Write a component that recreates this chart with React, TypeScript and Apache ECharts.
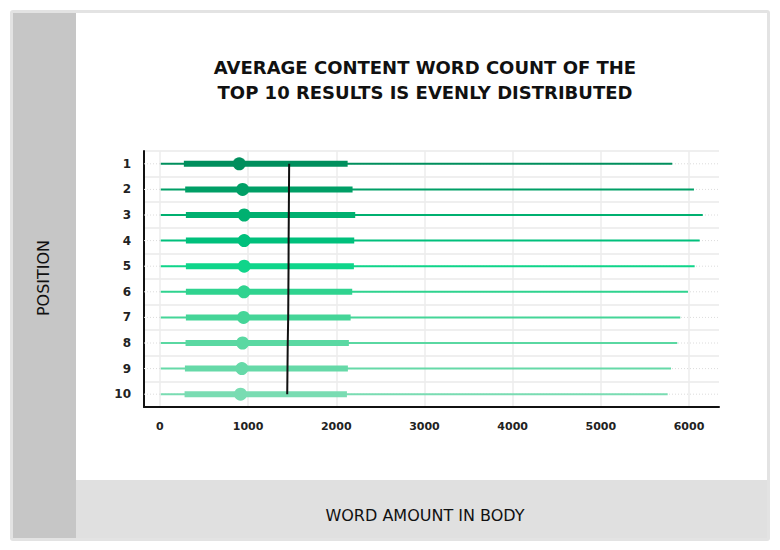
import React, { useEffect, useRef } from 'react';
import * as echarts from 'echarts';

// positions in the result list, top to bottom
const positions = ['1', '2', '3', '4', '5', '6', '7', '8', '9', '10'];
const minWords = [10, 10, 10, 10, 10, 10, 10, 10, 10, 10];
const q1Words = [272, 287, 295, 295, 295, 295, 295, 291, 284, 280];
const medianWords = [900, 938, 956, 956, 956, 953, 949, 938, 930, 915];
const q3Words = [2129, 2185, 2215, 2204, 2200, 2181, 2163, 2143, 2132, 2121];
const maxWords = [5810, 6056, 6156, 6121, 6064, 5988, 5901, 5867, 5796, 5758];
const averageWords = [1466, 1464, 1462, 1460, 1459, 1457, 1455, 1450, 1447, 1444];
const xTicks = [0, 1000, 2000, 3000, 4000, 5000, 6000];
const rowColors = [
  '#008f5d', '#009f66', '#00b070', '#00c07c', '#0fd58a',
  '#2fd38f', '#45d598', '#5ad8a2', '#66d9a8', '#79dcb2',
];

const FONT = '"DejaVu Sans", sans-serif';

const App: React.FC = () => {
  const chartRef = useRef<HTMLDivElement>(null);

  useEffect(() => {
    const myChart = echarts.init(chartRef.current!, undefined, { renderer: 'svg' });

    const option = {
      animation: false,
      backgroundColor: '#ffffff',
      graphic: [
        { type: 'rect', z: -10, shape: { x: 10, y: 10, width: 760, height: 531, r: 3 }, style: { fill: '#e3e3e3' } },
        { type: 'rect', z: -9, shape: { x: 13, y: 13, width: 754, height: 525 }, style: { fill: '#ffffff' } },
        { type: 'rect', z: -8, shape: { x: 13, y: 13, width: 63, height: 525 }, style: { fill: '#c6c6c6' } },
        { type: 'rect', z: -8, shape: { x: 76, y: 480, width: 691, height: 58 }, style: { fill: '#e0e0e0' } },
        {
          type: 'text', z: 5, x: 425, y: 80,
          style: {
            text: 'AVERAGE CONTENT WORD COUNT OF THE\nTOP 10 RESULTS IS EVENLY DISTRIBUTED',
            fill: '#111', font: `bold 18px ${FONT}`, textAlign: 'center', textVerticalAlign: 'middle', lineHeight: 25,
          },
        },
        {
          type: 'text', z: 5, x: 43, y: 278, rotation: Math.PI / 2,
          style: { text: 'POSITION', fill: '#111', font: `16px ${FONT}`, textAlign: 'center', textVerticalAlign: 'middle' },
        },
        {
          type: 'text', z: 5, x: 425, y: 515,
          style: { text: 'WORD AMOUNT IN BODY', fill: '#111', font: `16px ${FONT}`, textAlign: 'center', textVerticalAlign: 'middle' },
        },
      ],
      grid: { left: 144, right: 61, top: 151, bottom: 143 },
      xAxis: {
        type: 'value',
        min: -180,
        max: 6340,
        axisLine: { show: true, onZero: false, lineStyle: { color: '#111', width: 2 } },
        axisTick: { show: false, customValues: xTicks },
        axisLabel: {
          customValues: xTicks,
          formatter: (v: number) => String(v),
          color: '#222', fontSize: 11, fontWeight: 'bold', fontFamily: FONT, margin: 14,
        },
        splitLine: { show: true, lineStyle: { color: '#ececec', width: 1.5 } },
      },
      yAxis: {
        type: 'category',
        inverse: true,
        data: positions,
        axisLine: { show: true, onZero: false, lineStyle: { color: '#111', width: 2 } },
        axisTick: { show: false },
        axisLabel: { color: '#222', fontSize: 12, fontWeight: 'bold', fontFamily: FONT, margin: 13 },
        splitLine: { show: true, lineStyle: { color: '#efefef', width: 2 } },
      },
      series: [
        {
          type: 'custom',
          encode: { y: 0, x: [1, 2, 3, 4, 5] },
          data: positions.map((p, i) => [p, minWords[i], q1Words[i], medianWords[i], q3Words[i], maxWords[i]]),
          renderItem: (params: any, api: any) => {
            const i = params.dataIndex;
            const cs = params.coordSys;
            const color = rowColors[i];
            const cy = api.coord([0, i])[1];
            const xMin = api.coord([api.value(1), i])[0];
            const xQ1 = api.coord([api.value(2), i])[0];
            const xMed = api.coord([api.value(3), i])[0];
            const xQ3 = api.coord([api.value(4), i])[0];
            const xMax = api.coord([api.value(5), i])[0];
            return {
              type: 'group',
              children: [
                {
                  type: 'line',
                  shape: { x1: cs.x, y1: cy, x2: cs.x + cs.width, y2: cy },
                  style: { stroke: '#dcdcdc', lineWidth: 1, lineDash: [1, 2] },
                },
                {
                  type: 'line',
                  shape: { x1: xMin, y1: cy, x2: xMax, y2: cy },
                  style: { stroke: color, lineWidth: 2 },
                },
                {
                  type: 'rect',
                  shape: { x: xQ1, y: cy - 3, width: xQ3 - xQ1, height: 6 },
                  style: { fill: color },
                },
                {
                  type: 'circle',
                  shape: { cx: xMed, cy, r: 6.5 },
                  style: { fill: color },
                },
              ],
            };
          },
        },
        {
          type: 'line',
          data: averageWords.map((v, i) => [v, positions[i]]),
          symbol: 'none',
          z: 5,
          lineStyle: { color: '#111', width: 2 },
        },
      ],
    };

    myChart.setOption(option);

    return () => {
      myChart.dispose();
    };
  }, []);

  return <div ref={chartRef} style={{ position: 'fixed', left: 0, top: 0, width: '780px', height: '550px' }} />;
};

export default App;
